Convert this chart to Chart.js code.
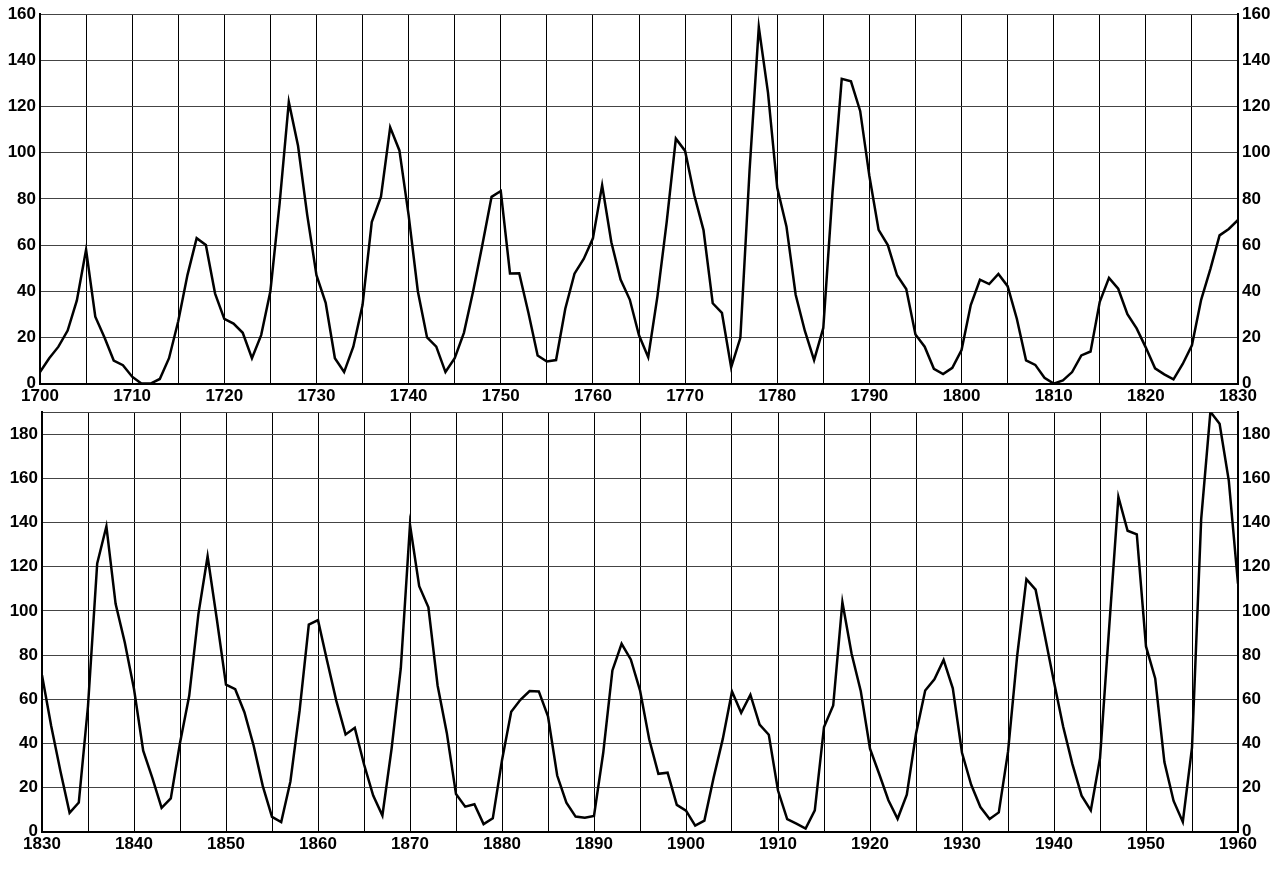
<!DOCTYPE html>
<html><head><meta charset="utf-8">
<script src="https://cdn.jsdelivr.net/npm/chart.js@4/dist/chart.umd.min.js"></script>
<style>body{margin:0;background:#fff;width:1278px;height:870px;overflow:hidden}
.w{position:absolute;left:0;width:1278px}</style></head><body>
<div class="w" style="top:0;height:410px"><canvas id="c1"></canvas></div>
<div class="w" style="top:398px;height:464px"><canvas id="c2"></canvas></div>
<script>
const yearsTop=[];for(let y=1700;y<=1830;y++)yearsTop.push(y);
const yearsBottom=[];for(let y=1830;y<=1960;y++)yearsBottom.push(y);
const sunspotsTop=[5,11,16,23,36,58,29,20,10,8,3,0,0,2,11,27,47,63,60,39,28,26,22,11,21,40,78,122,103,73,47,35,11,5,16,34,70,81,111,101,73,40,20,16,5,11,22,40,60,80.9,83.4,47.7,47.8,30.7,12.2,9.6,10.2,32.4,47.6,54,62.9,85.9,61.2,45.1,36.4,20.9,11.4,37.8,69.8,106.1,100.8,81.6,66.5,34.8,30.6,7,19.8,92.5,154.4,125.9,84.8,68.1,38.5,22.8,10.2,24.1,82.9,132,130.9,118.1,89.9,66.6,60,46.9,41,21.3,16,6.4,4.1,6.8,14.5,34,45,43.1,47.5,42.2,28.1,10.1,8.1,2.5,0,1.4,5,12.2,13.9,35.4,45.8,41.1,30.1,23.9,15.6,6.6,4,1.8,8.5,16.6,36.3,49.6,64.2,67,70.9];
const sunspotsBottom=[70.9,47.8,27.5,8.5,13.2,56.9,121.5,138.3,103.2,85.7,64.6,36.7,24.2,10.7,15,40.1,61.5,98.5,124.7,96.3,66.6,64.5,54.1,39,20.6,6.7,4.3,22.7,54.8,93.8,95.8,77.2,59.1,44,47,30.5,16.3,7.3,37.6,74,139,111.2,101.6,66.2,44.7,17,11.3,12.4,3.4,6,32.3,54.3,59.7,63.7,63.5,52.2,25.4,13.1,6.8,6.3,7.1,35.6,73,85.1,78,64,41.8,26.2,26.7,12.1,9.5,2.7,5,24.4,42,63.5,53.8,62,48.5,43.9,18.6,5.7,3.6,1.4,9.6,47.4,57.1,103.9,80.6,63.6,37.6,26.1,14.2,5.8,16.7,44.3,63.9,69,77.8,64.9,35.7,21.2,11.1,5.7,8.7,36.1,79.7,114.4,109.6,88.8,67.8,47.5,30.6,16.3,9.6,33.2,92.6,151.6,136.3,134.7,83.9,69.4,31.5,13.9,4.4,38,141.7,190.2,184.8,159,112.3];
const font={family:'Liberation Sans',size:17,weight:'bold'};
function mk(id,xs,ys,x0,x1,ymax,ylabMax,pad){
 const yl=v=>(v%20===0&&v<=ylabMax)?v:'';
 const ya=(pos)=>({type:'linear',position:pos,min:0,max:ymax,
   ticks:{stepSize:20,color:'#000',font,padding:4,callback:yl,autoSkip:false},
   grid:{color:'#444',lineWidth:1,drawTicks:false,tickLength:0},border:{color:'#000',width:2},afterFit:s=>{s.width=40}});
 new Chart(document.getElementById(id),{type:'line',
  data:{datasets:[{data:xs.map((x,i)=>({x,y:ys[i]})),borderColor:'#000',borderWidth:2.5,pointRadius:0,tension:0}]},
  options:{responsive:true,maintainAspectRatio:false,animation:false,
   layout:{padding:pad},
   plugins:{legend:{display:false},tooltip:{enabled:false}},
   scales:{
    x:{type:'linear',min:x0,max:x1,ticks:{stepSize:5,color:'#000',font,maxRotation:0,autoSkip:false,callback:v=>v%10===0?v:''},
       grid:{color:'#000',lineWidth:1,drawTicks:false},border:{color:'#000',width:2}},
    y:ya('left'),y2:ya('right')}}});
}
mk('c1',yearsTop,sunspotsTop,1700,1830,160,160,{top:12,left:0,right:0,bottom:0});
mk('c2',yearsBottom,sunspotsBottom,1830,1960,190,180,{top:12,left:2,right:0,bottom:4});
</script></body></html>
